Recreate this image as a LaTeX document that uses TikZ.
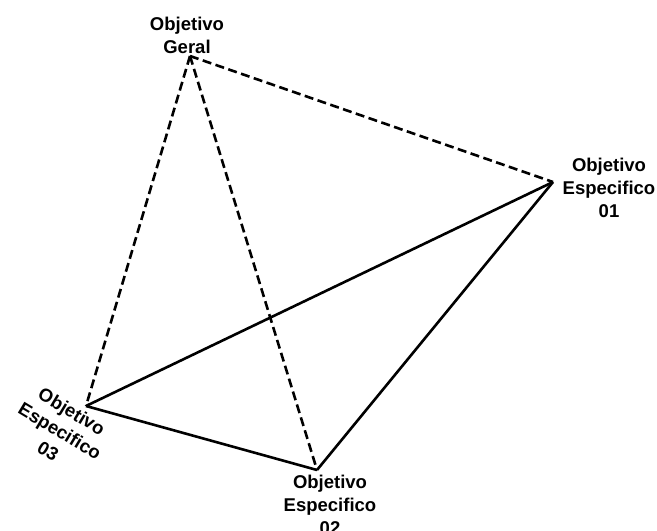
\documentclass[tikz,border=0pt]{standalone}
\usepackage{fontspec}
\setmainfont{Liberation Sans}
\begin{document}
\begin{tikzpicture}[x=1bp,y=-1bp,
  lbl/.style={font=\fontsize{18.5bp}{23bp}\selectfont\bfseries, align=center, inner sep=0pt},
  dline/.style={line width=2.6bp, dash pattern=on 9bp off 4.5bp},
  sline/.style={line width=2.6bp}]
\useasboundingbox (0,0) rectangle (657,531);
\coordinate (g) at (190,56);
\coordinate (e1) at (553,182);
\coordinate (e2) at (317,470);
\coordinate (e3) at (86,406);
\draw[dline] (g) -- (e1);
\draw[dline] (g) -- (e3);
\draw[dline] (g) -- (e2);
\draw[sline] (e1) -- (e3);
\draw[sline] (e1) -- (e2);
\draw[sline] (e3) -- (e2);
\node[lbl] (lg) at (187,35) {Objetivo\\Geral};
\node[lbl] (l1) at (609,188) {Objetivo\\Especifico\\01};
\node[lbl] (l2) at (330,505) {Objetivo\\Especifico\\02};
\node[lbl, rotate=-31] (l3) at (60,431) {Objetivo\\Especifico\\03};
\end{tikzpicture}
\end{document}
